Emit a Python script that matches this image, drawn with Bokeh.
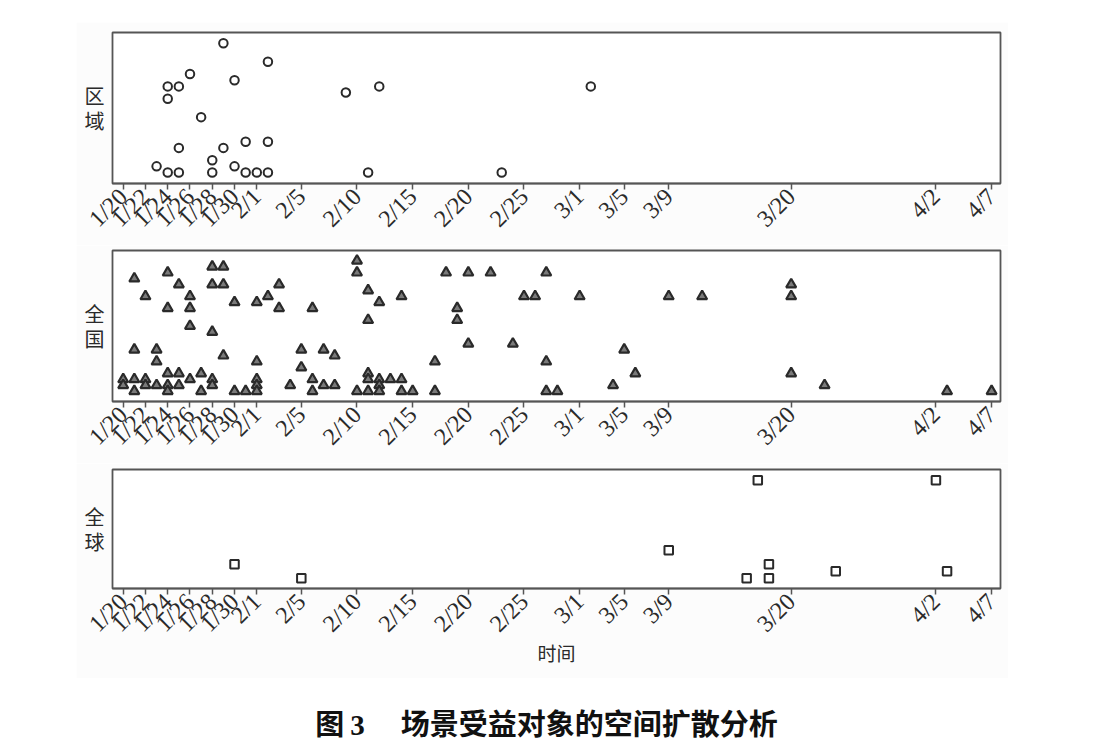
import math
from datetime import date
from bokeh.plotting import figure
from bokeh.layouts import column
from bokeh.models import Range1d, FixedTicker, Div
from bokeh.embed import file_html
from bokeh.resources import INLINE

# ---------------- data ----------------
tick_labels = ["1/20", "1/22", "1/24", "1/26", "1/28", "1/30", "2/1", "2/5", "2/10",
               "2/15", "2/20", "2/25", "3/1", "3/5", "3/9", "3/20", "4/2", "4/7"]

region_dates = ["1/29", "2/2", "1/26", "1/24", "1/25", "1/30", "2/9", "2/12", "3/2",
                "1/24", "1/27", "1/31", "2/2", "1/25", "1/29", "1/28", "1/23", "1/30",
                "1/24", "1/25", "1/28", "1/31", "2/1", "2/2", "2/11", "2/23"]
region_vals = [22, 19, 17, 15, 15, 16, 14, 15, 15,
               13, 10, 6, 6, 5, 5, 3, 2, 2,
               1, 1, 1, 1, 1, 1, 1, 1]

national_dates = [
    "1/20", "1/20",
    "1/21", "1/21", "1/21", "1/21",
    "1/22", "1/22", "1/22",
    "1/23", "1/23", "1/23",
    "1/24", "1/24", "1/24", "1/24", "1/24",
    "1/25", "1/25", "1/25",
    "1/26", "1/26", "1/26", "1/26",
    "1/27", "1/27",
    "1/28", "1/28", "1/28", "1/28", "1/28",
    "1/29", "1/29", "1/29",
    "1/30", "1/30",
    "1/31",
    "2/1", "2/1", "2/1", "2/1", "2/1",
    "2/2",
    "2/3", "2/3",
    "2/4",
    "2/5", "2/5",
    "2/6", "2/6", "2/6",
    "2/7", "2/7",
    "2/8", "2/8",
    "2/10", "2/10", "2/10",
    "2/11", "2/11", "2/11", "2/11", "2/11",
    "2/12", "2/12", "2/12", "2/12",
    "2/13",
    "2/14", "2/14", "2/14",
    "2/15",
    "2/17", "2/17",
    "2/18",
    "2/19", "2/19",
    "2/20", "2/20",
    "2/22",
    "2/24",
    "2/25",
    "2/26",
    "2/27", "2/27", "2/27",
    "2/28",
    "3/1",
    "3/4",
    "3/5",
    "3/6",
    "3/9",
    "3/12",
    "3/20", "3/20", "3/20",
    "3/23",
    "4/3",
    "4/7",
]
national_vals = [
    3, 2,
    20, 8, 3, 1,
    17, 3, 2,
    8, 6, 2,
    21, 15, 4, 2, 1,
    19, 4, 2,
    17, 15, 12, 3,
    4, 1,
    22, 19, 11, 3, 2,
    22, 19, 7,
    16, 1,
    1,
    16, 6, 3, 2, 1,
    17,
    19, 15,
    2,
    8, 5,
    15, 3, 1,
    8, 2,
    7, 2,
    23, 21, 1,
    18, 13, 4, 3, 1,
    16, 3, 2, 1,
    3,
    17, 3, 1,
    1,
    6, 1,
    21,
    15, 13,
    21, 9,
    21,
    9,
    17,
    17,
    21, 6, 1,
    1,
    17,
    2,
    8,
    4,
    17,
    17,
    19, 17, 4,
    2,
    1,
    1,
]

global_dates = ["1/30", "2/5", "3/17", "4/2", "3/9", "3/18", "3/16", "3/18", "3/24", "4/3"]
global_vals = [3, 1, 15, 15, 5, 3, 1, 1, 2, 2]

panel_names = ["区\n域", "全\n国", "全\n球"]
x_title = "时间"
caption_fig = "图"
caption_num = "3"
caption_text = "场景受益对象的空间扩散分析"

START = date(2020, 1, 20)


def day(s):
    m, d = s.split("/")
    return (date(2020, int(m), int(d)) - START).days


tick_pos = [day(t) for t in tick_labels]

FRAME_COL = "#555555"
INK = "#2a2a2a"
BG = "#fcfcfc"
W = 932
LEFT = 76


def make_panel(name, dates, vals, marker, yr, height, top, bottom, show_xlabel=False, first=False):
    p = figure(width=W, height=height, output_backend="svg", toolbar_location=None,
               x_range=Range1d(-0.96, 78.8), y_range=Range1d(*yr),
               min_border_left=36, min_border_right=8, min_border_top=top,
               min_border_bottom=bottom,
               background_fill_color="white", border_fill_color=BG)
    p.margin = (22 if first else 0, 0, 0, LEFT)
    p.grid.visible = False
    p.outline_line_color = FRAME_COL
    p.outline_line_width = 1.8

    xa = p.xaxis[0]
    xa.ticker = FixedTicker(ticks=tick_pos)
    xa.major_label_overrides = {pos: lab for pos, lab in zip(tick_pos, tick_labels)}
    xa.major_label_orientation = math.pi / 4
    xa.major_label_text_font = "Liberation Serif"
    xa.major_label_text_font_size = "24px"
    xa.major_label_text_color = INK
    xa.major_tick_out = 6
    xa.major_tick_in = 0
    xa.major_tick_line_color = FRAME_COL
    xa.major_tick_line_width = 1.5
    xa.minor_tick_line_color = None
    xa.axis_line_color = FRAME_COL
    xa.axis_line_width = 1.5
    xa.major_label_standoff = 3
    if show_xlabel:
        xa.axis_label = x_title
        xa.axis_label_text_font = "Noto Sans CJK SC"
        xa.axis_label_text_font_size = "19px"
        xa.axis_label_text_font_style = "normal"
        xa.axis_label_text_color = INK
        xa.axis_label_standoff = -10

    ya = p.yaxis[0]
    ya.ticker = FixedTicker(ticks=[])
    ya.major_tick_line_color = None
    ya.minor_tick_line_color = None
    ya.axis_line_color = None
    ya.major_label_text_font_size = "0px"
    ya.axis_label = name
    ya.axis_label_orientation = "horizontal"
    ya.axis_label_text_font = "Noto Sans CJK SC"
    ya.axis_label_text_font_size = "20px"
    ya.axis_label_text_line_height = 0.85
    ya.axis_label_text_font_style = "normal"
    ya.axis_label_text_color = INK
    ya.axis_label_standoff = 8

    xs = [day(d) for d in dates]
    if marker == "circle":
        p.scatter(xs, vals, marker="circle", size=8.5, fill_color="white",
                  line_color=INK, line_width=2.0)
    elif marker == "triangle":
        p.scatter(xs, vals, marker="triangle", size=10, fill_color="#7a7a7a",
                  line_color=INK, line_width=2.2)
    else:
        p.scatter(xs, vals, marker="square", size=8.5, fill_color="white",
                  line_color=INK, line_width=2.0)
    return p


p1 = make_panel(panel_names[0], region_dates, region_vals, "circle", (-0.79, 23.76),
                223, 10, 62, first=True)
p2 = make_panel(panel_names[1], national_dates, national_vals, "triangle", (-0.74, 24.73),
                218, 5, 62)
p3 = make_panel(panel_names[2], global_dates, global_vals, "square", (-0.47, 16.53),
                215, 6, 90, show_xlabel=True)

cap_html = (
    '<div style="width:1093px;text-align:center;padding-top:24px;line-height:40px;'
    'font-family:\'Noto Sans CJK SC\';font-weight:bold;font-size:29px;color:#111;'
    'white-space:nowrap;">'
    f'<span>{caption_fig}</span>'
    f'<span style="font-family:\'Liberation Serif\';margin-left:6px;">{caption_num}</span>'
    f'<span style="margin-left:36px;">{caption_text}</span>'
    '</div>'
)
cap = Div(text=cap_html, width=1093, height=70, margin=(0, 0, 0, 0))

layout = column(p1, p2, p3, cap, spacing=0)

open("out.html", "w").write(file_html(layout, INLINE))
